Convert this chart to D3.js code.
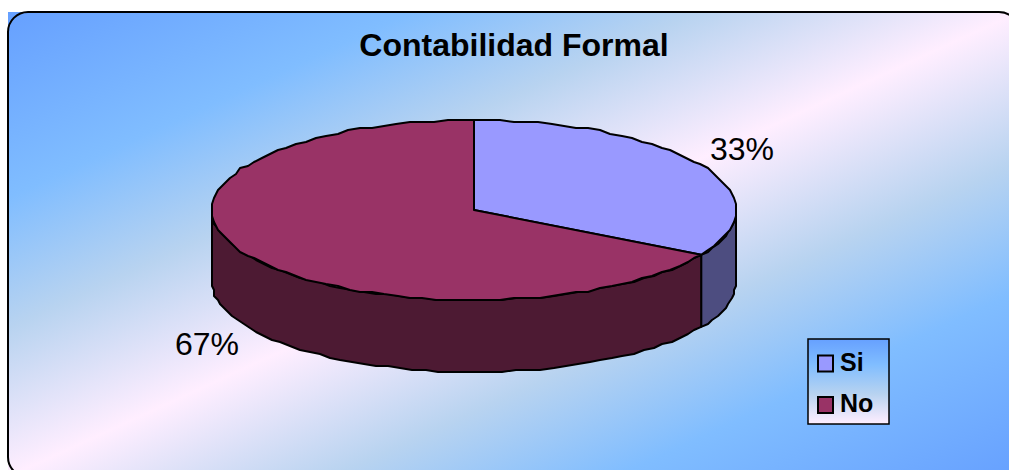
<!DOCTYPE html>
<html><head><meta charset="utf-8"><script src="https://cdn.jsdelivr.net/npm/d3@7"></script>
<style>html,body{margin:0;padding:0;background:#fff;overflow:hidden}svg{display:block}</style></head><body>
<svg id="c" width="1009" height="470"></svg>
<script>
const categories = ["Si", "No"];
const values = [33.3, 66.7];
const colors = ["#9999ff", "#993366"];
const sideColors = ["#4d4d80", "#4d1a33"];
const labels = ["33%", "67%"];
const title = "Contabilidad Formal";
const svg = d3.select("#c");
const defs = svg.append("defs");
const bg = defs.append("linearGradient").attr("id", "bg").attr("x1", 0).attr("y1", 0).attr("x2", 1).attr("y2", 1);
[[0,"#66a0ff"],[0.2,"#80bdff"],[0.34,"#b8d3f0"],[0.5,"#ffeeff"],[0.66,"#b8d3f0"],[0.8,"#80bdff"],[1,"#66a0ff"]].forEach(s => bg.append("stop").attr("offset", s[0]).attr("stop-color", s[1]));
const lg = defs.append("linearGradient").attr("id", "lg").attr("x1", 0).attr("y1", 0).attr("x2", 0).attr("y2", 1);
[[0,"#66a0ff"],[0.3,"#80bdff"],[0.65,"#b8d3f0"],[1,"#ffeeff"]].forEach(s => lg.append("stop").attr("offset", s[0]).attr("stop-color", s[1]));
const FX = 8, FY = 12, FW = 1011, FH = 465;
svg.append("rect").attr("x", FX).attr("y", FY).attr("width", FW).attr("height", FH).attr("fill", "url(#bg)");
svg.append("rect").attr("x", FX).attr("y", FY).attr("width", FW).attr("height", FH).attr("rx", 20)
  .attr("fill", "none").attr("stroke", "#000").attr("stroke-width", 2);
svg.append("text").attr("x", 514).attr("y", 56).attr("text-anchor", "middle")
  .attr("font-family", "Liberation Sans").attr("font-weight", "bold").attr("font-size", 32).attr("fill", "#000").text(title);

const cx = 474, cy = 210, rx = 262, ry = 90, depth = 72;
const arcs = d3.pie().sort(null)(values);
const grid = 2, step = 0.05;
const P = a => [cx + rx * Math.sin(a), cy - ry * Math.cos(a)];
const snap = p => [Math.round(p[0] / grid) * grid, Math.round(p[1] / grid) * grid];
const line = d3.line();
function arcPts(a0, a1, dy) {
  const n = Math.max(2, Math.ceil((a1 - a0) / step));
  return d3.range(n + 1).map(i => {
    const p = P(a0 + (a1 - a0) * i / n);
    const q = (i === 0 || i === n) ? p : snap(p);
    return [q[0], q[1] + dy];
  });
}
arcs.forEach((d, i) => {
  const a0 = Math.max(d.startAngle, Math.PI / 2), a1 = Math.min(d.endAngle, 3 * Math.PI / 2);
  if (a1 <= a0) return;
  const top = arcPts(a0, a1, 0), bot = arcPts(a0, a1, depth).reverse();
  svg.append("path").attr("d", line(top.concat(bot)) + "Z").attr("fill", sideColors[i])
    .attr("stroke", "#000").attr("stroke-width", 2).attr("stroke-linejoin", "round");
});
arcs.forEach((d, i) => {
  const pts = [[cx, cy]].concat(arcPts(d.startAngle, d.endAngle, 0));
  svg.append("path").attr("d", line(pts) + "Z").attr("fill", colors[i])
    .attr("stroke", "#000").attr("stroke-width", 2).attr("stroke-linejoin", "round");
});
[[742, 160], [207, 355]].forEach((p, i) => {
  svg.append("text").attr("x", p[0]).attr("y", p[1]).attr("text-anchor", "middle")
    .attr("font-family", "Liberation Sans").attr("font-size", 32).attr("fill", "#000").text(labels[i]);
});
svg.append("rect").attr("x", 808).attr("y", 339).attr("width", 81).attr("height", 85).attr("fill", "url(#lg)").attr("stroke", "#000").attr("stroke-width", 1.5);
categories.forEach((c, i) => {
  const y = 363.5 + i * 41.5;
  svg.append("rect").attr("x", 818).attr("y", y - 8).attr("width", 15).attr("height", 16).attr("fill", colors[i]).attr("stroke", "#000").attr("stroke-width", 2);
  svg.append("text").attr("x", 840).attr("y", y + 7).attr("font-family", "Liberation Sans").attr("font-weight", "bold").attr("font-size", 25).attr("fill", "#000").text(c);
});
</script></body></html>
